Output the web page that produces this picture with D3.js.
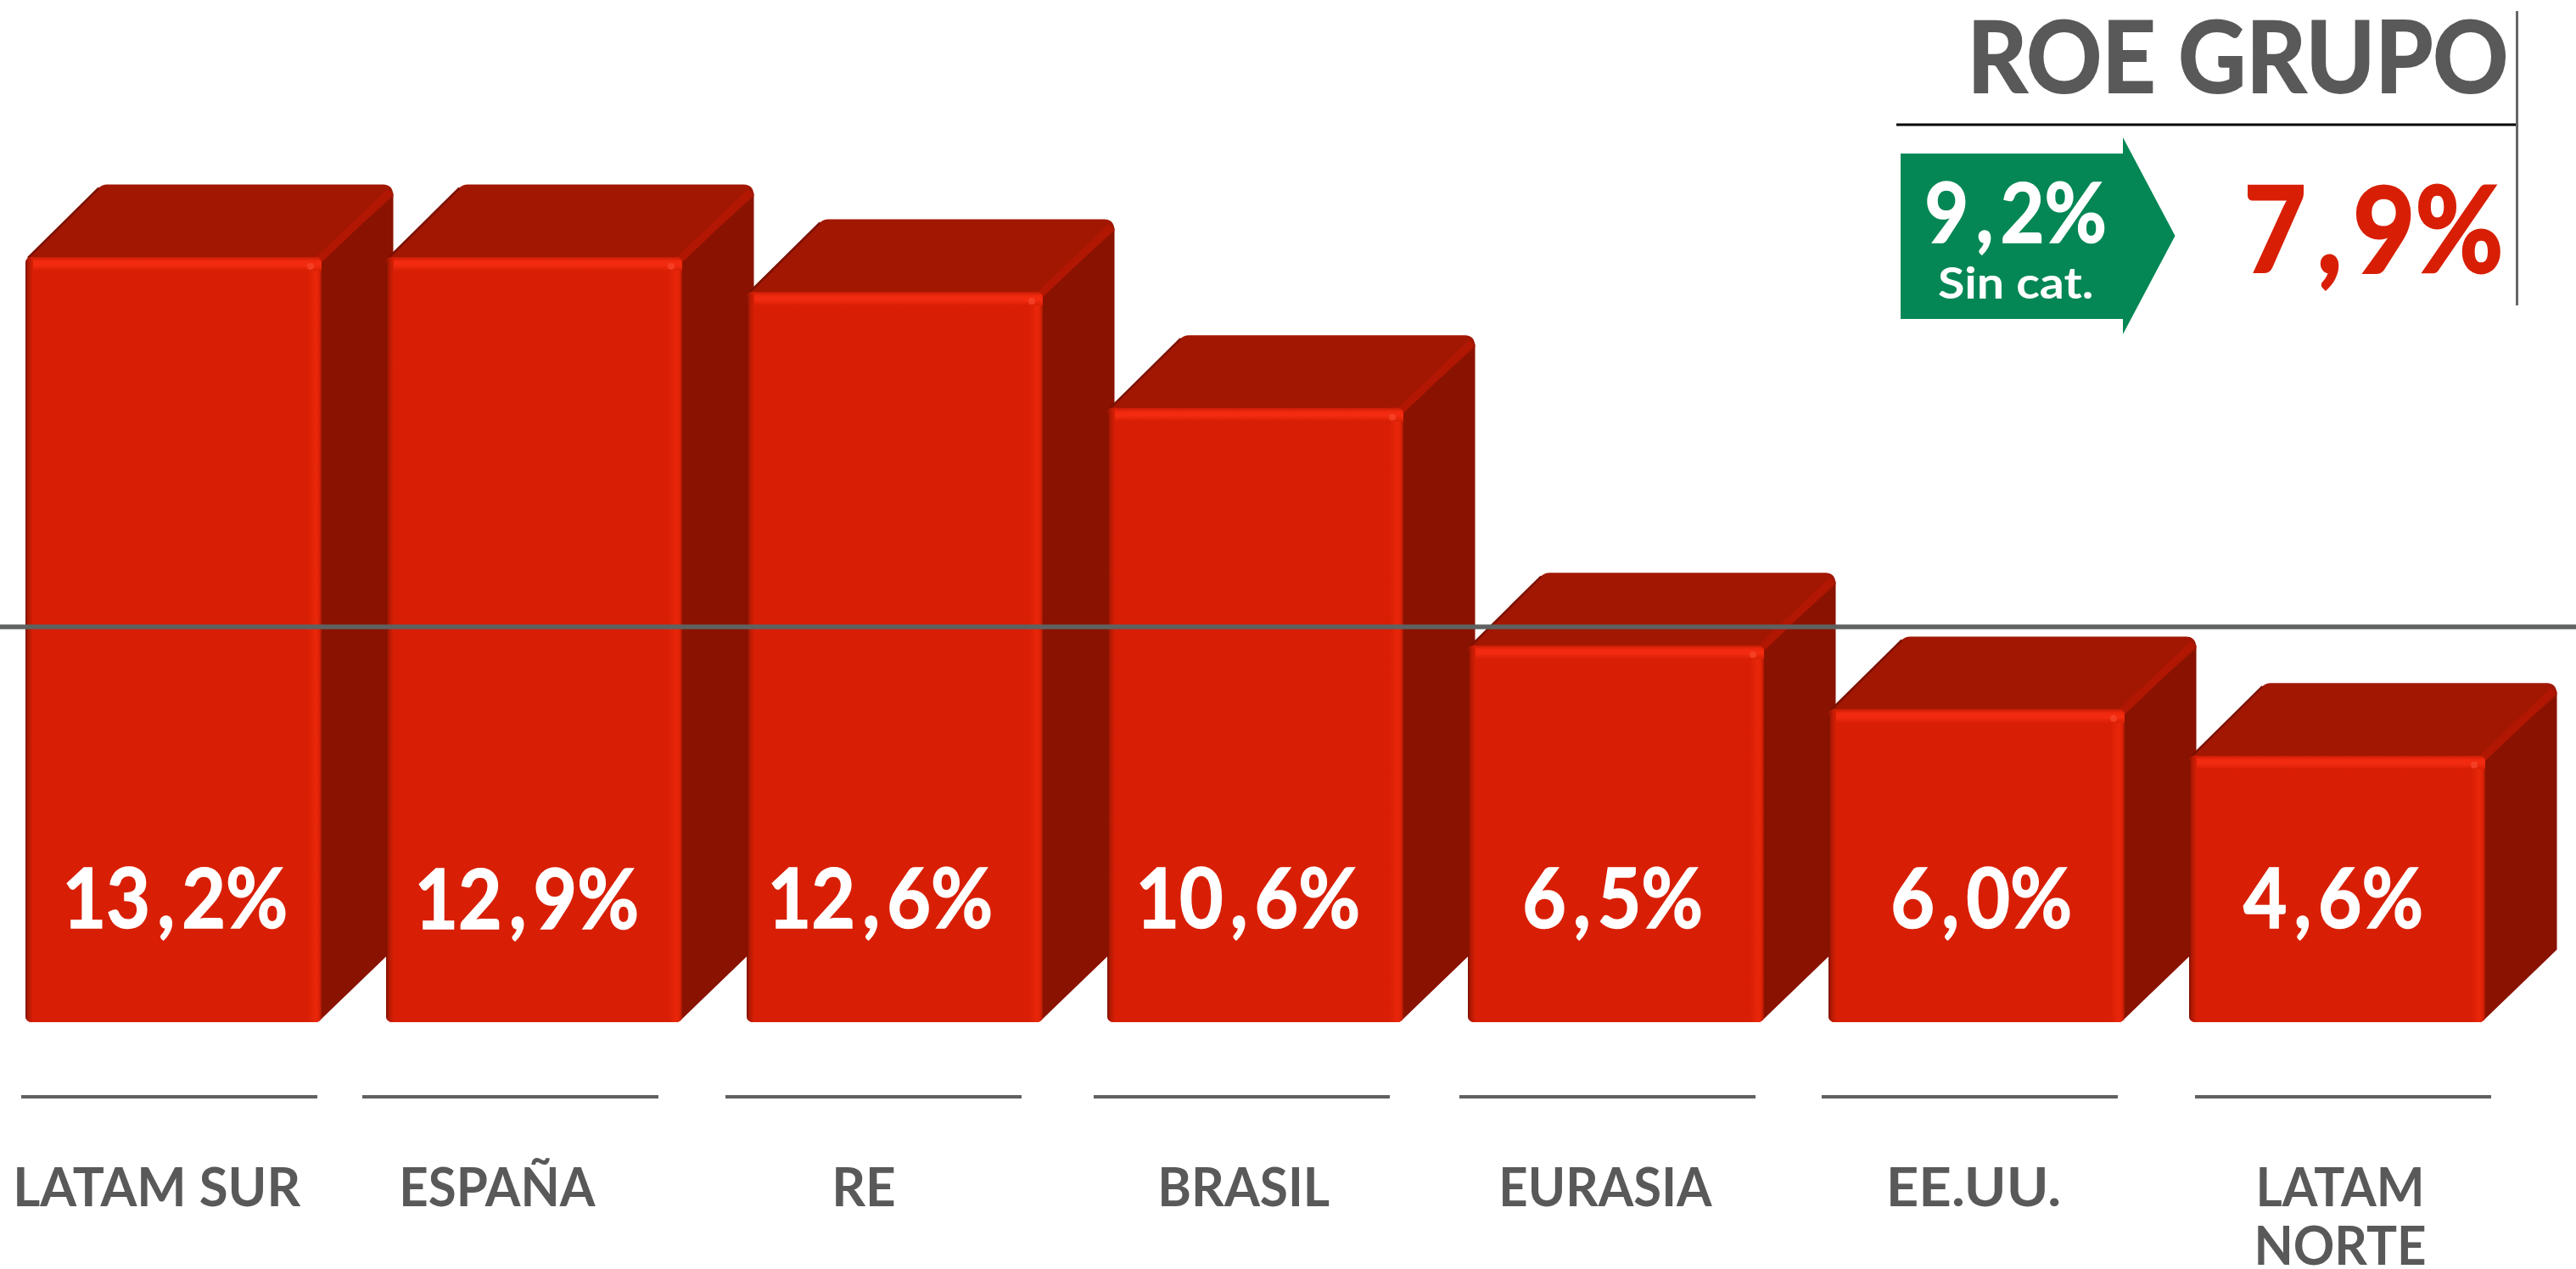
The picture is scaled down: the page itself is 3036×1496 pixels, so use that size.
<!DOCTYPE html>
<html>
<head>
<meta charset="utf-8">
<title>ROE Grupo</title>
<script src="https://d3js.org/d3.v7.min.js"></script>
<style>
  html, body { margin: 0; padding: 0; background: #fff; }
  svg { display: block; }
  text { font-family: Lato, "Open Sans", sans-serif; font-weight: 700; }
</style>
</head>
<body>
<div id="chart"></div>
<script type="text/javascript">

// data
var categories = ["LATAM SUR", "ESPAÑA", "RE", "BRASIL", "EURASIA", "EE.UU.", "LATAM NORTE"];
var labelValues = [13.2, 12.9, 12.6, 10.6, 6.5, 6.0, 4.6];
// the drawn heights do not follow the printed labels for ESPAÑA and EE.UU.
var drawnValues = [13.2, 13.2, 12.6, 10.6, 6.5, 5.4, 4.6];
var groupLine = 6.82;
var titleText = "ROE GRUPO";
var groupRoe = 7.9;
var groupRoeExCat = 9.2;

// layout
var width = 3036, height = 1496;
var baseY = 1205, depth = 85.5;
var red = "#d81f05", topRed = "#a21702", sideRed = "#8a1200", grey = "#595959", ruleGrey = "#5f6261";

// where each label rule and label sit relative to its bar (they are not aligned in the original)
var ruleOffsets = [-5, -28, -25, -16, -10, -8, 7];
var labelSpans = [[20, 355], [475, 702], [985, 1054], [1369, 1567], [1771, 2018], [2228, 2427], [2658, 2858]];
var valueSpans = [[79, 336], [494, 750], [910, 1167], [1344, 1600], [1798, 2004], [2232, 2439], [2644, 2853]];

var x = d3.scaleBand().domain(categories).range([30, 2928]).paddingInner(1 - 348 / 425);
var y = d3.scaleLinear().domain([0, 13.2]).range([baseY, 303]);

var svg = d3.select("#chart").append("svg").attr("width", width).attr("height", height);
svg.append("rect").attr("width", width).attr("height", height).attr("fill", "#fff");

var defs = svg.append("defs");

function gradient(id, horizontal, stops) {
  var g = defs.append("linearGradient").attr("id", id)
    .attr("x1", 0).attr("y1", 0)
    .attr("x2", horizontal ? 1 : 0).attr("y2", horizontal ? 0 : 1);
  stops.forEach(function (s) {
    g.append("stop").attr("offset", s[0]).attr("stop-color", s[1]);
  });
}
gradient("leftEdge", true, [[0, "#7a1000"], [0.35, "#b01903"], [1, red]]);
gradient("rightEdge", true, [[0, red], [0.55, "#e9260a"], [0.8, "#df2308"], [1, "#a81803"]]);
gradient("topEdge", false, [[0, "#c41c05"], [0.3, "#f1290f"], [0.6, "#f32b10"], [1, red]]);

// places text so its ink runs from x0 to x1, squeezing it sideways like the original font
var ctx = document.createElement("canvas").getContext("2d");
function fitText(g, txt, x0, x1, base, size, fill, commaGap, bolder) {
  ctx.font = "700 " + size + "px Lato";
  var m = ctx.measureText(txt);
  var gap = commaGap ? commaGap * size : 0;
  var ink = m.actualBoundingBoxLeft + m.actualBoundingBoxRight + 2 * gap;
  var sx = (x1 - x0) / ink;
  var t = g.append("text")
    .attr("transform", "translate(" + (x0 + m.actualBoundingBoxLeft * sx) + "," + base + ") scale(" + sx + ",1)")
    .attr("font-size", size)
    .attr("fill", fill);
  if (bolder) t.attr("stroke", fill).attr("stroke-width", bolder);
  if (gap) {
    var parts = txt.split(",");
    t.append("tspan").text(parts[0]);
    t.append("tspan").attr("dx", gap).text(",");
    t.append("tspan").attr("dx", gap).text(parts[1]);
  } else {
    t.text(txt);
  }
  return t;
}

var fmt = function (v) { return v.toFixed(1).replace(".", ",") + "%"; };

// bars, left to right so each front covers the side of the previous one
var bars = svg.selectAll("g.bar").data(categories).enter().append("g").attr("class", "bar")
  .each(function (d, i) {
    var g = d3.select(this);
    var x0 = x(d), w = x.bandwidth(), x1 = x0 + w;
    var top = y(drawnValues[i]);

    // side face
    var side = d3.path();
    side.moveTo(x1 - 4, top);
    side.lineTo(x1 + depth, top - depth + 10);
    side.lineTo(x1 + depth, baseY - depth);
    side.lineTo(x1 + 1, baseY - 4);
    side.quadraticCurveTo(x1 - 2, baseY, x1 - 8, baseY);
    side.closePath();
    g.append("path").attr("d", side.toString()).attr("fill", sideRed);

    // top face with rounded back corners
    var lid = d3.path();
    lid.moveTo(x0 + 2, top + 2);
    lid.lineTo(x0 + depth, top - depth + 5);
    lid.quadraticCurveTo(x0 + depth + 4, top - depth, x0 + depth + 11, top - depth);
    lid.lineTo(x1 + depth - 12, top - depth);
    lid.quadraticCurveTo(x1 + depth, top - depth, x1 + depth, top - depth + 14);
    lid.lineTo(x1, top + 4);
    lid.closePath();
    g.append("path").attr("d", lid.toString()).attr("fill", topRed);

    // shaded left slope of the top face
    g.append("line")
      .attr("x1", x0 + 3).attr("y1", top + 1)
      .attr("x2", x0 + depth + 1).attr("y2", top - depth + 4)
      .attr("stroke", "#7d1000").attr("stroke-width", 2.5);

    // brighter ridge between top and side
    g.append("line")
      .attr("x1", x1 - 2).attr("y1", top + 3)
      .attr("x2", x1 + depth - 4).attr("y2", top - depth + 9)
      .attr("stroke", "#b11703").attr("stroke-width", 9);

    // front face
    var clipId = "front" + i;
    defs.append("clipPath").attr("id", clipId).append("rect")
      .attr("x", x0).attr("y", top).attr("width", w + 1).attr("height", baseY - top)
      .attr("rx", 7).attr("ry", 7);
    var front = g.append("g").attr("clip-path", "url(#" + clipId + ")");
    front.append("rect")
      .attr("x", x0).attr("y", top).attr("width", w + 1).attr("height", baseY - top)
      .attr("fill", red);
    front.append("rect")
      .attr("x", x1 - 15).attr("y", top).attr("width", 16).attr("height", baseY - top)
      .attr("fill", "url(#rightEdge)");
    front.append("rect")
      .attr("x", x0).attr("y", top).attr("width", w + 1).attr("height", 16)
      .attr("fill", "url(#topEdge)");
    front.append("rect")
      .attr("x", x0).attr("y", top).attr("width", 9).attr("height", baseY - top)
      .attr("fill", "url(#leftEdge)");
    front.append("circle")
      .attr("cx", x1 - 12).attr("cy", top + 11).attr("r", 4)
      .attr("fill", "#f6452a").attr("opacity", 0.8);
  });

// group reference line across the whole width
svg.append("line")
  .attr("x1", 0).attr("x2", width)
  .attr("y1", y(groupLine)).attr("y2", y(groupLine))
  .attr("stroke", ruleGrey).attr("stroke-width", 5.5);

// values on the bars
categories.forEach(function (d, i) {
  fitText(svg, fmt(labelValues[i]), valueSpans[i][0], valueSpans[i][1], i === 1 ? 1095 : 1094, 97, "#fff", 0.09, 1.5);
});

// rules and category labels under the bars
categories.forEach(function (d, i) {
  svg.append("line")
    .attr("x1", x(d) + ruleOffsets[i]).attr("x2", x(d) + ruleOffsets[i] + 349)
    .attr("y1", 1293).attr("y2", 1293)
    .attr("stroke", ruleGrey).attr("stroke-width", 4);
});
categories.forEach(function (d, i) {
  var span = labelSpans[i];
  if (d === "LATAM NORTE") {
    // one text with two lines, as in the original
    var t = svg.append("text")
      .attr("text-anchor", "middle")
      .attr("transform", "translate(2758,1422) scale(0.94,1)")
      .attr("font-size", 64)
      .attr("fill", grey);
    t.append("tspan").attr("x", 0).attr("y", 0).text("LATAM");
    t.append("tspan").attr("x", 0).attr("y", 69).text("NORTE");
  } else {
    fitText(svg, d, span[0], span[1], 1422, 64, grey);
  }
});

// group panel, top right
fitText(svg, titleText, 2327, 2953, 109, 117, grey, 0, 2);
svg.append("line").attr("x1", 2235).attr("x2", 2967).attr("y1", 147).attr("y2", 147)
  .attr("stroke", "#000").attr("stroke-width", 3);
svg.append("line").attr("x1", 2966.5).attr("x2", 2966.5).attr("y1", 13).attr("y2", 360)
  .attr("stroke", "#666").attr("stroke-width", 3);

var arrow = d3.line();
svg.append("path")
  .attr("d", arrow([[2240, 181], [2502, 181], [2502, 162], [2563.5, 278], [2502, 394], [2502, 376], [2240, 376]]) + "Z")
  .attr("fill", "#048754");
fitText(svg, fmt(groupRoeExCat), 2272, 2480, 286, 98, "#fff", 0.09, 1.5);
fitText(svg, "Sin cat.", 2285, 2466, 352, 52, "#fff");
fitText(svg, fmt(groupRoe), 2650, 2946, 321, 140, "#d81f05", 0.1, 3);

</script>
</body>
</html>
